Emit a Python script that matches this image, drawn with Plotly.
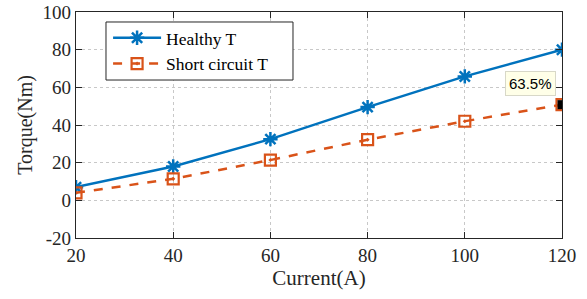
import plotly.graph_objects as go

current = [20, 40, 60, 80, 100, 120]
healthy_t = [7, 18, 32.5, 49.5, 65.8, 80]
short_t = [4, 11.4, 21.4, 32.2, 42, 50.8]
x_ticks = [20, 40, 60, 80, 100, 120]
y_ticks = [-20, 0, 20, 40, 60, 80, 100]
y_tick_text = ["-20", "0", "20", "40", "60", "80", "100"]

blue = "#0072BD"
orange = "#D95319"
font = "Liberation Serif, Times New Roman, serif"

fig = go.Figure()
fig.add_trace(go.Scatter(
    x=current, y=healthy_t, name="Healthy T", mode="lines+markers",
    line=dict(color=blue, width=2.5),
    marker=dict(symbol="asterisk-open", size=12, color=blue, line=dict(color=blue, width=2.5)),
))
fig.add_trace(go.Scatter(
    x=current, y=short_t, name="Short circuit T", mode="lines+markers",
    line=dict(color=orange, width=2.5, dash="dash"),
    marker=dict(symbol="square-open-dot", size=11, color=orange, line=dict(color=orange, width=2.2)),
))
fig.add_trace(go.Scatter(
    x=[current[-1]], y=[short_t[-1]], mode="markers", showlegend=False,
    marker=dict(symbol="square", size=9, color="black"),
))
fig.add_annotation(
    x=current[-1], y=short_t[-1], text="63.5%", showarrow=False,
    xanchor="right", yanchor="bottom", xshift=-6, yshift=9,
    font=dict(family="Liberation Sans, Arial, sans-serif", size=15, color="black"),
    bgcolor="#FFFFE8", bordercolor="#D8D8C8", borderwidth=1, borderpad=3,
)
# legend frame
fig.add_shape(type="rect", xref="paper", yref="paper",
              x0=0.0617, x1=0.4465, y0=0.699, y1=0.9558,
              line=dict(color="#262626", width=1), fillcolor="white", layer="above")

axis_common = dict(
    showline=True, linecolor="#262626", linewidth=1.2, mirror="ticks",
    ticks="inside", ticklen=6, tickcolor="#262626",
    showgrid=True, gridcolor="#C8C8C8", griddash="dot", gridwidth=1,
    zeroline=False, tickfont=dict(family=font, size=19, color="#262626"),
    automargin=False, ticklabeloverflow="allow",
)
fig.update_xaxes(range=[20, 120], tickvals=x_ticks,
                 title=dict(text="Current(A)", font=dict(family=font, size=21, color="#262626"), standoff=4),
                 **axis_common)
fig.update_yaxes(range=[-20, 100], tickvals=y_ticks, ticktext=y_tick_text,
                 title=dict(text="Torque(Nm)", font=dict(family=font, size=20, color="#262626"), standoff=4),
                 **axis_common)
fig.update_layout(
    width=587, height=299,
    margin=dict(l=76, r=25, t=12, b=61),
    plot_bgcolor="white", paper_bgcolor="white",
    legend=dict(x=0.066, y=0.965, xanchor="left", yanchor="top",
                bgcolor="rgba(0,0,0,0)", borderwidth=0,
                font=dict(family=font, size=17.5, color="black"),
                tracegroupgap=0, itemwidth=48),
)
fig.write_html("out.html", config={"displayModeBar": False},
               post_script="document.body.style.margin='0';document.body.style.padding='0';")
